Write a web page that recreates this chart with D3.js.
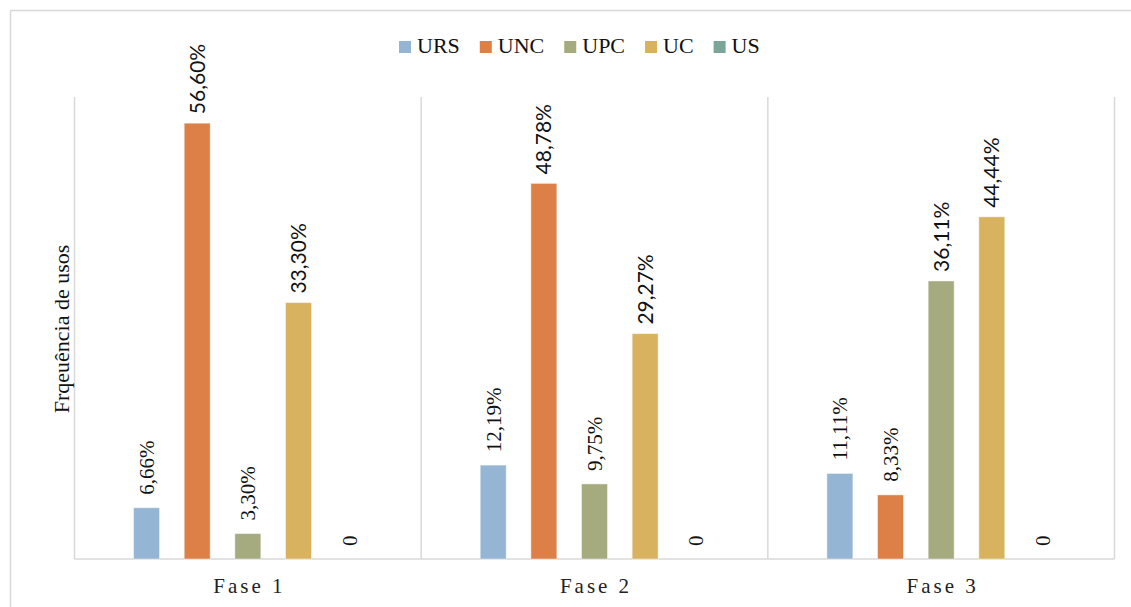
<!DOCTYPE html>
<html>
<head>
<meta charset="utf-8">
<script src="https://cdn.jsdelivr.net/npm/d3@7"></script>
<style>
  html, body { margin: 0; padding: 0; background: #fff; }
  svg { display: block; }
</style>
</head>
<body>
<svg id="chart" width="1131" height="607"></svg>
<script>
// Phases on the category axis
const categories = ["Fase 1", "Fase 2", "Fase 3"];
// Usage types (series)
const series = ["URS", "UNC", "UPC", "UC", "US"];
// Percentages per usage type, one value per phase
const valuesURS = [6.66, 12.19, 11.11];
const valuesUNC = [56.60, 48.78, 8.33];
const valuesUPC = [3.30, 9.75, 36.11];
const valuesUC  = [33.30, 29.27, 44.44];
const valuesUS  = [0, 0, 0];
// Label text shown above each bar
const labelsURS = ["6,66%", "12,19%", "11,11%"];
const labelsUNC = ["56,60%", "48,78%", "8,33%"];
const labelsUPC = ["3,30%", "9,75%", "36,11%"];
const labelsUC  = ["33,30%", "29,27%", "44,44%"];
const labelsUS  = ["0", "0", "0"];
const yTitle = "Frqeuência de usos";

const seriesValues = { URS: valuesURS, UNC: valuesUNC, UPC: valuesUPC, UC: valuesUC, US: valuesUS };
const seriesLabels = { URS: labelsURS, UNC: labelsUNC, UPC: labelsUPC, UC: labelsUC, US: labelsUS };
const colors = { URS: "#94b5d4", UNC: "#dd8048", UPC: "#a5aa7f", UC: "#d8b25e", US: "#7ba697" };

const svg = d3.select("#chart");
const serif = "'Liberation Serif', 'Times New Roman', serif";
const sans = "Lato, 'Liberation Sans', sans-serif";
const gridColor = "#d9d9d9";

// outer chart frame
svg.append("rect")
  .attr("x", 10.5).attr("y", 10.5)
  .attr("width", 1140).attr("height", 620)
  .attr("fill", "none").attr("stroke", gridColor).attr("stroke-width", 1.5);

const plot = { left: 74.5, right: 1114.5, top: 97, bottom: 559 };

const x0 = d3.scaleBand().domain(categories).range([plot.left, plot.right]).padding(0);
const x1 = d3.scaleBand().domain(series).range([0, x0.bandwidth()])
  .paddingInner(0.487).paddingOuter(1.166);
const y = d3.scaleLinear().domain([0, 60]).range([plot.bottom, plot.top]);

// vertical dividers between phases
const dividers = categories.map(c => x0(c)).concat([x0(categories[categories.length - 1]) + x0.bandwidth()]);
svg.append("g").selectAll("line").data(dividers).join("line")
  .attr("x1", d => d).attr("x2", d => d)
  .attr("y1", plot.top).attr("y2", plot.bottom)
  .attr("stroke", gridColor).attr("stroke-width", 1.5);

// category axis line
svg.append("line")
  .attr("x1", plot.left).attr("x2", plot.right)
  .attr("y1", plot.bottom).attr("y2", plot.bottom)
  .attr("stroke", gridColor).attr("stroke-width", 1.5);

// bars
const rows = [];
categories.forEach((c, i) => {
  series.forEach(s => rows.push({ cat: c, s, v: seriesValues[s][i], label: seriesLabels[s][i] }));
});

svg.append("g").selectAll("rect").data(rows.filter(d => d.v > 0)).join("rect")
  .attr("x", d => x0(d.cat) + x1(d.s))
  .attr("y", d => y(d.v))
  .attr("width", x1.bandwidth())
  .attr("height", d => y(0) - y(d.v))
  .attr("fill", d => colors[d.s])
  .attr("stroke", "#ffffff").attr("stroke-opacity", 0.45).attr("stroke-width", 1);

// rotated value labels
svg.append("g").selectAll("text").data(rows).join("text")
  .attr("transform", d => {
    const cx = x0(d.cat) + x1(d.s) + x1.bandwidth() / 2;
    const gap = d.v > 20 ? 9 : 13;
    return `translate(${cx},${y(d.v) - gap}) rotate(-90)`;
  })
  .attr("dy", "0.36em")
  .attr("text-anchor", "start")
  .attr("font-family", d => d.v > 20 ? sans : serif)
  .attr("font-size", d => d.v > 20 ? "21px" : "21px")
  .attr("fill", "#111")
  .text(d => d.label);

// phase labels
svg.append("g").selectAll("text").data(categories).join("text")
  .attr("x", d => x0(d) + x0.bandwidth() / 2 + 1.5)
  .attr("y", 593)
  .attr("text-anchor", "middle")
  .attr("font-family", serif)
  .attr("font-size", "21px")
  .attr("letter-spacing", "3px")
  .attr("fill", "#222")
  .text(d => d);

// y axis title
svg.append("text")
  .attr("transform", "translate(69,329) rotate(-90)")
  .attr("text-anchor", "middle")
  .attr("font-family", serif)
  .attr("font-size", "22px")
  .attr("fill", "#111")
  .text(yTitle);

// legend
const legend = svg.append("g");
let lx = 399;
series.forEach(s => {
  legend.append("rect")
    .attr("x", lx).attr("y", 41)
    .attr("width", 12).attr("height", 12)
    .attr("fill", colors[s]);
  const t = legend.append("text")
    .attr("x", lx + 18).attr("y", 53)
    .attr("font-family", serif)
    .attr("font-size", "22px")
    .attr("fill", "#111")
    .text(s);
  lx += 18 + t.node().getComputedTextLength() + 20;
});
</script>
</body>
</html>
